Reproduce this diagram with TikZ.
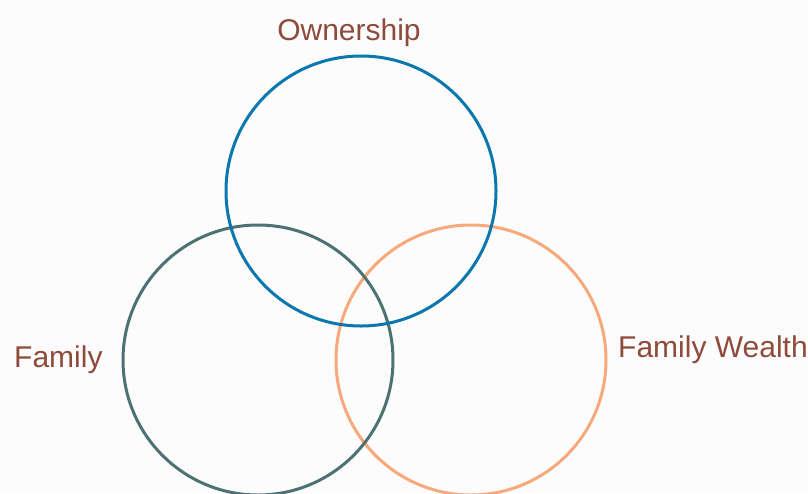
\documentclass[tikz,border=0pt]{standalone}
\usepackage{fontspec}
\setmainfont{Liberation Sans}
\definecolor{bgc}{HTML}{FCFCFC}
\definecolor{txt}{HTML}{8E4A3A}
\definecolor{cblue}{HTML}{0A78AE}
\definecolor{cteal}{HTML}{4D7274}
\definecolor{corange}{HTML}{F7A97C}
\begin{document}
\begin{tikzpicture}[x=1pt,y=-1pt,
  ring/.style={draw,line width=3pt,circle,minimum size=270pt,inner sep=0pt},
  lbl/.style={text=txt,font=\fontsize{30}{36}\selectfont,inner sep=0pt,anchor=base}]
\fill[bgc] (0,0) rectangle (808,493);
\useasboundingbox (0,0) rectangle (808,493);
\node[ring,draw=corange] (wealth) at (471,360) {};
\node[ring,draw=cteal] (family) at (258,360) {};
\node[ring,draw=cblue] (owner) at (361,191) {};
\node[lbl] (lowner) at (349,40) {Ownership};
\node[lbl,anchor=base west] (lfamily) at (14,367) {Family};
\node[lbl,anchor=base west] (lwealth) at (618,357) {Family Wealth};
\end{tikzpicture}
\end{document}
